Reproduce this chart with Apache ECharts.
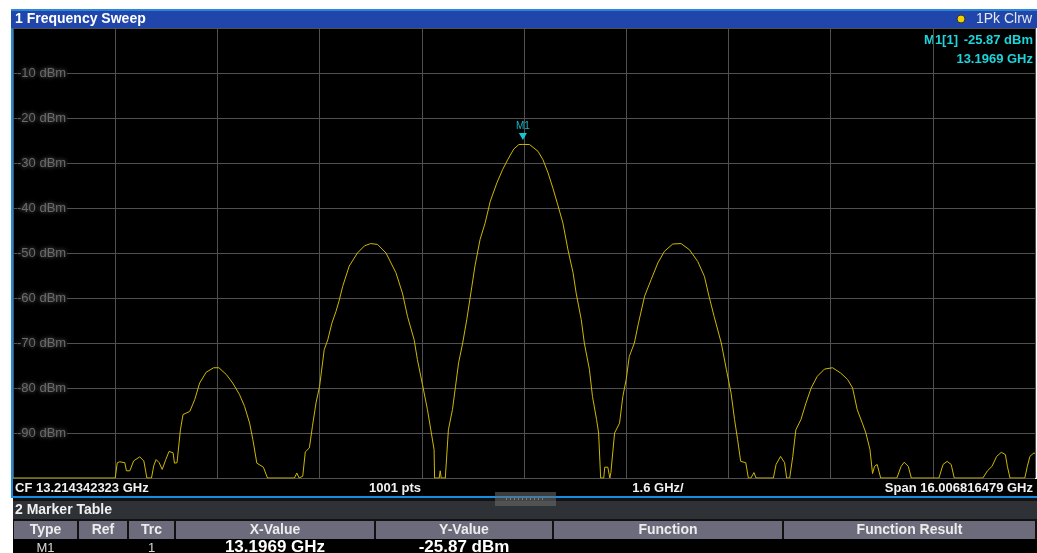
<!DOCTYPE html>
<html>
<head>
<meta charset="utf-8">
<title>1 Frequency Sweep</title>
<script src="https://cdn.jsdelivr.net/npm/echarts@6/dist/echarts.min.js"></script>
<style>
  html, body { margin: 0; padding: 0; background: #fff; }
  #chart { width: 1037px; height: 553px; }
</style>
</head>
<body>
<div id="chart"></div>
<script>
// sweep settings
var CENTER_GHZ = 13.214342323;
var SPAN_GHZ = 16.006816479;
var START_GHZ = CENTER_GHZ - SPAN_GHZ / 2;
var DIV_GHZ = SPAN_GHZ / 10;

// trace 1, frequency in GHz / level in dBm
var freqGHz = [
  5.211, 6.812, 6.844, 6.884, 6.962, 6.988, 7.041, 7.100, 7.196, 7.260,
  7.308, 7.380, 7.415, 7.452, 7.500, 7.548, 7.604, 7.655, 7.718, 7.740,
  7.780, 7.833, 7.874, 7.980, 8.057, 8.134, 8.236, 8.353, 8.436, 8.552,
  8.652, 8.760, 8.838, 8.917, 8.968, 9.030, 9.133, 9.197, 9.619, 9.656,
  9.693, 9.749, 9.789, 9.853, 9.901, 9.957, 10.013, 10.085, 10.141, 10.205,
  10.269, 10.317, 10.375, 10.477, 10.605, 10.717, 10.813, 10.921, 11.053, 11.209,
  11.310, 11.390, 11.494, 11.545, 11.625, 11.702, 11.755, 11.806, 11.814, 11.886,
  11.902, 11.918, 11.982, 12.030, 12.094, 12.142, 12.190, 12.254, 12.318, 12.398,
  12.446, 12.526, 12.606, 12.686, 12.790, 12.878, 12.958, 13.054, 13.134, 13.197,
  13.302, 13.434, 13.512, 13.591, 13.667, 13.743, 13.823, 13.903, 13.983, 14.031,
  14.111, 14.159, 14.239, 14.287, 14.351, 14.383, 14.415, 14.463, 14.479, 14.527,
  14.559, 14.575, 14.633, 14.711, 14.762, 14.815, 14.863, 14.943, 15.007, 15.103,
  15.206, 15.311, 15.415, 15.545, 15.675, 15.807, 15.936, 16.040, 16.112, 16.192,
  16.304, 16.384, 16.457, 16.512, 16.560, 16.608, 16.688, 16.728, 16.768, 16.816,
  16.848, 17.120, 17.162, 17.232, 17.296, 17.328, 17.376, 17.424, 17.472, 17.552,
  17.632, 17.712, 17.808, 17.920, 18.048, 18.176, 18.282, 18.361, 18.433, 18.513,
  18.569, 18.633, 18.673, 18.705, 18.746, 18.801, 19.054, 19.121, 19.169, 19.233,
  19.281, 19.713, 19.777, 19.841, 19.905, 19.953, 20.401, 20.473, 20.545, 20.617,
  20.690, 20.754, 20.785, 20.826, 21.058, 21.098, 21.138, 21.202, 21.218
];
var levelDbm = [
  -100, -100, -96.6, -96.4, -96.6, -98.4, -98.4, -96.2, -95.3, -96.2,
  -100, -100, -97.3, -95.9, -96.6, -98.1, -95.9, -94.1, -94.4, -96.7,
  -96.6, -89.3, -85.9, -85.2, -82.6, -78.9, -76.5, -75.5, -75.5, -77.0,
  -78.9, -81.5, -84.1, -87.8, -91.5, -96.7, -97.6, -100, -100, -98.9,
  -100, -99.6, -94.2, -93.3, -88.5, -83.3, -79.6, -71.5, -69.3, -65.6,
  -63.0, -60.7, -57.4, -52.9, -50.0, -48.4, -47.9, -48.1, -50.0, -54.4,
  -58.9, -64.1, -69.3, -73.7, -79.3, -84.8, -89.3, -93.7, -100, -100,
  -98.4, -100, -100, -89.3, -84.8, -79.6, -74.4, -70.0, -64.8, -57.4,
  -52.9, -47.0, -43.3, -38.5, -34.4, -31.5, -29.3, -26.9, -25.9, -25.87,
  -25.9, -27.4, -29.3, -32.2, -35.6, -39.3, -43.3, -49.3, -54.4, -58.9,
  -64.8, -70.0, -75.9, -81.9, -87.0, -90.0, -100, -100, -97.6, -97.6,
  -100, -98.8, -90.0, -87.8, -81.9, -78.1, -73.0, -70.0, -65.6, -59.6,
  -55.9, -52.2, -49.6, -48.0, -47.9, -49.3, -51.9, -55.2, -59.6, -64.1,
  -70.0, -75.9, -81.1, -87.0, -91.5, -96.3, -96.6, -100, -100, -98.8,
  -100, -100, -97.0, -95.2, -96.6, -100, -100, -95.2, -89.3, -87.0,
  -83.3, -80.0, -77.4, -75.8, -75.5, -76.7, -78.1, -80.0, -84.8, -87.8,
  -90.0, -93.7, -99.0, -97.4, -97.0, -100, -100, -97.4, -96.5, -97.4,
  -100, -100, -97.0, -96.3, -97.0, -100, -100, -98.4, -97.4, -95.2,
  -94.3, -94.8, -97.4, -100, -100, -97.4, -95.2, -94.4, -94.6
];

// marker 1
var markerFreqGHz = 13.1969;
var markerLevelDbm = -25.87;

// marker table
var tableHeaders = ['Type', 'Ref', 'Trc', 'X-Value', 'Y-Value', 'Function', 'Function Result'];
var tableRow = ['M1', '', '1', '13.1969 GHz', '-25.87 dBm', '', ''];

var traceData = freqGHz.map(function (f, i) {
  return [f - START_GHZ, levelDbm[i]];
});

var chart = echarts.init(document.getElementById('chart'));

var FONT = "'Liberation Sans', Arial, sans-serif";
var colX = [13, 78, 128, 175, 375, 553, 783, 1036];

var graphics = [
  // header bar
  { type: 'rect', shape: { x: 11, y: 9, width: 1026, height: 19 }, style: { fill: '#2046ac' }, silent: true },
  { type: 'rect', shape: { x: 11, y: 9, width: 1026, height: 2 }, style: { fill: '#2a86dc' }, silent: true },
  { type: 'text', x: 15, y: 19, style: { text: '1 Frequency Sweep', fill: '#fff', font: 'bold 14px ' + FONT, verticalAlign: 'middle' } },
  { type: 'circle', shape: { cx: 961, cy: 19, r: 4 }, style: { fill: '#f0d000', stroke: '#333', lineWidth: 1 } },
  { type: 'text', x: 1032, y: 19, style: { text: '1Pk Clrw', fill: '#e8e8e8', font: '14px ' + FONT, align: 'right', verticalAlign: 'middle' } },
  // left blue border
  { type: 'rect', shape: { x: 11, y: 28, width: 2, height: 470 }, style: { fill: '#168de2' }, silent: true },
  // marker readout
  { type: 'text', x: 958, y: 40, style: { text: 'M1[1]', fill: '#1cd4dc', font: 'bold 13px ' + FONT, align: 'right', verticalAlign: 'middle' } },
  { type: 'text', x: 1033, y: 40, style: { text: '-25.87 dBm', fill: '#1cd4dc', font: 'bold 13px ' + FONT, align: 'right', verticalAlign: 'middle' } },
  { type: 'text', x: 1033, y: 59, style: { text: '13.1969 GHz', fill: '#1cd4dc', font: 'bold 13px ' + FONT, align: 'right', verticalAlign: 'middle' } },
  // status line under the diagram
  { type: 'rect', shape: { x: 13, y: 479, width: 1024, height: 17 }, style: { fill: '#000' }, silent: true },
  { type: 'text', x: 15, y: 488, style: { text: 'CF 13.214342323 GHz', fill: '#f0f0f0', font: 'bold 13px ' + FONT, verticalAlign: 'middle' } },
  { type: 'text', x: 395, y: 488, style: { text: '1001 pts', fill: '#f0f0f0', font: 'bold 13px ' + FONT, align: 'center', verticalAlign: 'middle' } },
  { type: 'text', x: 658, y: 488, style: { text: '1.6 GHz/', fill: '#f0f0f0', font: 'bold 13px ' + FONT, align: 'center', verticalAlign: 'middle' } },
  { type: 'text', x: 1033, y: 488, style: { text: 'Span 16.006816479 GHz', fill: '#f0f0f0', font: 'bold 13px ' + FONT, align: 'right', verticalAlign: 'middle' } },
  // blue separator + dark area
  { type: 'rect', shape: { x: 13, y: 498, width: 1024, height: 55 }, style: { fill: '#111' }, silent: true },
  { type: 'rect', shape: { x: 11, y: 496, width: 1026, height: 2 }, style: { fill: '#168de2' }, silent: true },
  // marker table title
  { type: 'rect', shape: { x: 13, y: 501, width: 1024, height: 18 }, style: { fill: '#2e3236' }, silent: true },
  { type: 'text', x: 15, y: 510, style: { text: '2 Marker Table', fill: '#f0f0f0', font: 'bold 14px ' + FONT, verticalAlign: 'middle' } },
  // splitter handle
  { type: 'rect', shape: { x: 495, y: 492, width: 61, height: 14 }, style: { fill: 'rgba(110,110,110,0.55)' }, silent: true },
  { type: 'line', shape: { x1: 506, y1: 499, x2: 545, y2: 499 }, style: { stroke: '#bbb', lineWidth: 1, lineDash: [1, 3] }, silent: true },
  // data row background
  { type: 'rect', shape: { x: 13, y: 539, width: 1024, height: 14 }, style: { fill: '#000' }, silent: true }
];

tableHeaders.forEach(function (h, i) {
  var x0 = colX[i], x1 = colX[i + 1];
  graphics.push({ type: 'rect', shape: { x: x0 + 1, y: 521, width: x1 - x0 - 2, height: 18 }, style: { fill: '#6b6b7b' }, silent: true });
  graphics.push({ type: 'text', x: (x0 + x1) / 2, y: 530, style: { text: h, fill: '#ececec', font: 'bold 14px ' + FONT, align: 'center', verticalAlign: 'middle' } });
});

tableRow.forEach(function (v, i) {
  if (!v) return;
  var x0 = colX[i], x1 = colX[i + 1];
  var big = i >= 3;
  graphics.push({ type: 'text', x: (x0 + x1) / 2, y: big ? 547 : 548, style: { text: v, fill: big ? '#fff' : '#d8d8d8', font: (big ? 'bold 17px ' : '13px ') + FONT, align: 'center', verticalAlign: 'middle' } });
});

var option = {
  backgroundColor: '#fff',
  animation: false,
  grid: { left: 13, right: 2, top: 28, bottom: 75, backgroundColor: '#000', show: true, borderWidth: 0 },
  xAxis: {
    type: 'value',
    min: 0,
    max: SPAN_GHZ,
    interval: DIV_GHZ,
    axisLine: { show: true, lineStyle: { color: '#505050' } },
    axisTick: { show: false },
    axisLabel: { show: false },
    splitLine: { show: true, lineStyle: { color: '#505050', width: 1 } }
  },
  yAxis: {
    type: 'value',
    min: -100,
    max: 0,
    interval: 10,
    axisLine: { show: false },
    axisTick: { show: false },
    splitLine: { show: true, lineStyle: { color: '#505050', width: 1 } },
    axisLabel: {
      inside: true,
      margin: 4,
      color: '#6a6a6a',
      fontFamily: FONT,
      fontSize: 13,
      backgroundColor: '#000',
      padding: [0, 1, 0, 0],
      textShadowColor: 'rgba(170,170,170,0.7)',
      textShadowBlur: 4,
      formatter: function (v) {
        if (v === 0 || v === -100) return '';
        return v + ' dBm';
      }
    }
  },
  series: [{
    type: 'line',
    data: traceData,
    symbol: 'none',
    clip: true,
    lineStyle: { color: '#cdb800', width: 1 },
    markPoint: {
      symbol: 'triangle',
      symbolRotate: 180,
      symbolSize: [8, 7],
      symbolOffset: [0, -8],
      itemStyle: { color: '#12c8d6' },
      label: {
        show: true,
        position: 'top',
        distance: 2,
        formatter: 'M1',
        color: '#12b8c6',
        fontFamily: FONT,
        fontSize: 10
      },
      data: [{ coord: [markerFreqGHz - START_GHZ, markerLevelDbm] }]
    }
  }],
  graphic: graphics
};

chart.setOption(option);
</script>
</body>
</html>
